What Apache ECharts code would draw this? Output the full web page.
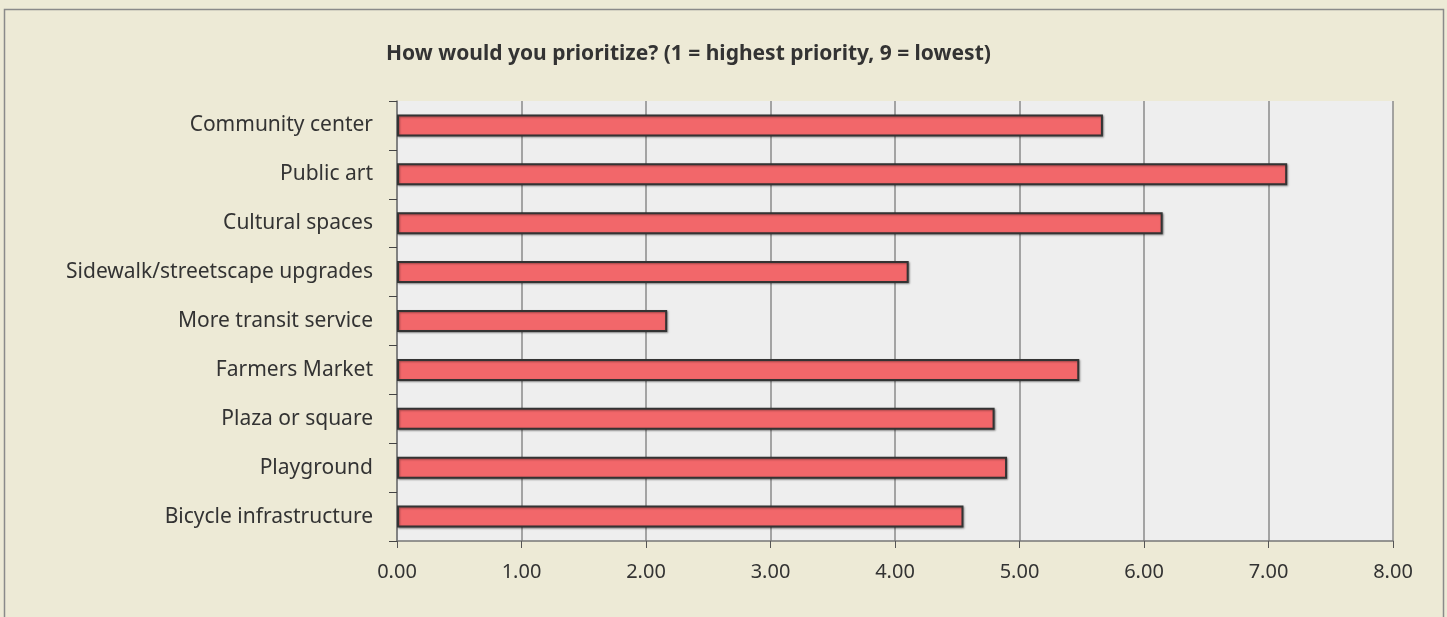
<!DOCTYPE html>
<html>
<head>
<meta charset="utf-8">
<script src="https://cdn.jsdelivr.net/npm/echarts@6/dist/echarts.min.js"></script>
<style>html,body{margin:0;padding:0;background:#EDEAD6;}#c{width:1447px;height:617px;}</style>
</head>
<body>
<div id="c"></div>
<script>
var categories = ["Community center","Public art","Cultural spaces","Sidewalk/streetscape upgrades","More transit service","Farmers Market","Plaza or square","Playground","Bicycle infrastructure"];
var values = [5.67, 7.15, 6.15, 4.11, 2.17, 5.48, 4.80, 4.90, 4.55];
var xTicks = [0,1,2,3,4,5,6,7,8];
var titleText = "How would you prioritize? (1 = highest priority, 9 = lowest)";

var chart = echarts.init(document.getElementById('c'), null, {renderer:'canvas'});
var font = "'Noto Sans', sans-serif";
chart.setOption({
  backgroundColor: '#EDEAD6',
  animation: false,
  title: {
    text: titleText,
    left: 381, top: 39,
    textStyle: {fontFamily: font, fontWeight: 'bold', fontSize: 21, color: '#333333'}
  },
  graphic: [{
    type: 'rect', silent: true, z: -1,
    shape: {x: 4.5, y: 9.5, width: 1439, height: 640},
    style: {fill: 'none', stroke: '#8a8a8a', lineWidth: 1.5}
  }],
  grid: {left: 397, right: 54, top: 101, bottom: 76, show: true, backgroundColor: '#EEEEEE', borderWidth: 0},
  xAxis: {
    type: 'value', min: xTicks[0], max: xTicks[xTicks.length-1], interval: 1,
    axisLine: {show: true, lineStyle: {color: '#777', width: 1.5}},
    axisTick: {show: true, length: 7, lineStyle: {color: '#555', width: 1}},
    axisLabel: {margin: 21, fontFamily: font, fontSize: 20, color: '#333', formatter: function(v){return v.toFixed(2);}},
    splitLine: {show: true, lineStyle: {color: '#8a8a8a', width: 1.5}}
  },
  yAxis: {
    type: 'category', data: categories, inverse: true,
    axisLine: {show: true, lineStyle: {color: '#777', width: 1.5}},
    axisTick: {show: true, length: 8, lineStyle: {color: '#444', width: 1}},
    axisLabel: {margin: 24, fontFamily: font, fontSize: 21, color: '#333'}
  },
  series: [{
    type: 'bar', data: values, barWidth: 22,
    itemStyle: {color: '#F2676A', borderColor: '#333333', borderWidth: 2,
      shadowBlur: 2, shadowColor: 'rgba(0,0,0,0.35)', shadowOffsetX: 1, shadowOffsetY: 1}
  }]
});
</script>
</body>
</html>
